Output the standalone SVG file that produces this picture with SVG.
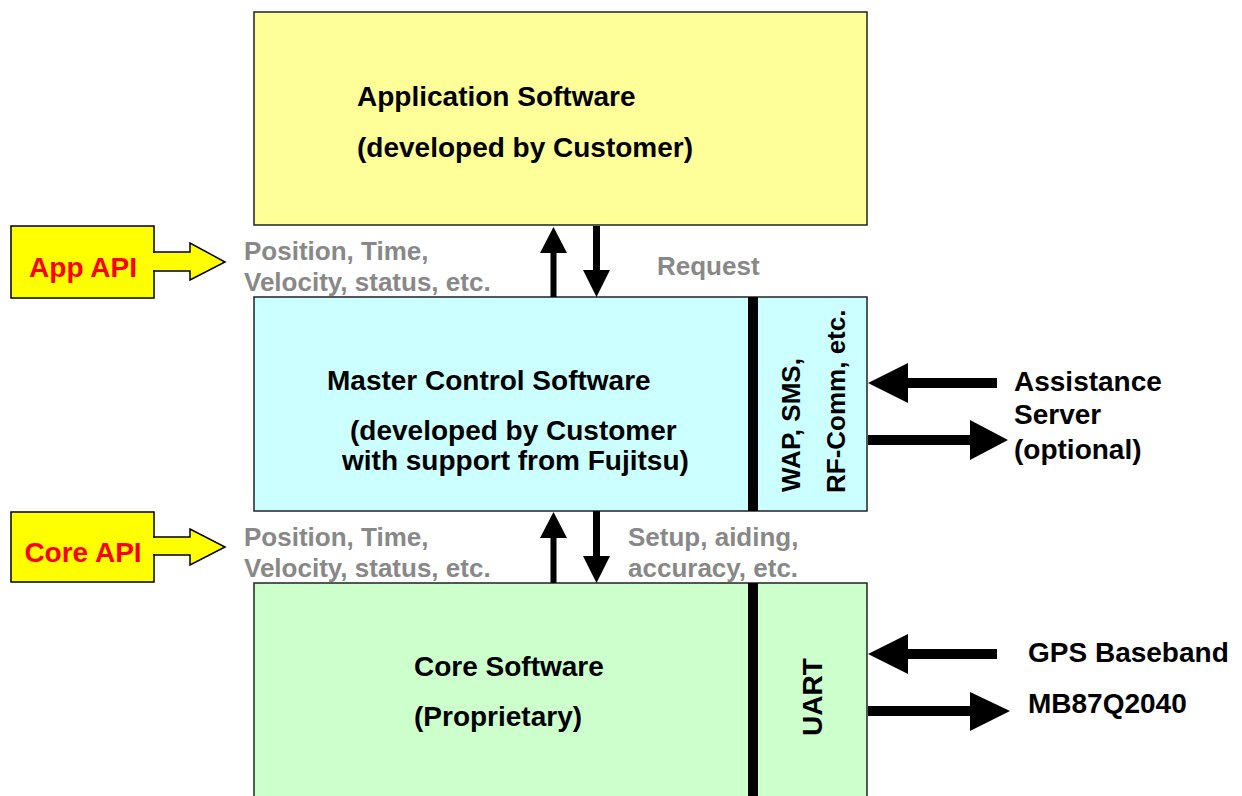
<svg xmlns="http://www.w3.org/2000/svg" width="1242" height="796" viewBox="0 0 1242 796">
<style>
.box{stroke:#222;stroke-width:1.5}
.t{font-family:"Liberation Sans",Arial,sans-serif;font-weight:bold;font-size:28px;fill:#000}
.v{font-size:26px}
.g{font-family:"Liberation Sans",Arial,sans-serif;font-weight:bold;font-size:26px;fill:#888}
.r{font-family:"Liberation Sans",Arial,sans-serif;font-weight:bold;font-size:28px;fill:#f00}
.blk{fill:#000}
.api{fill:#ff0;stroke:#000;stroke-width:1.5}
</style>
<rect width="1242" height="796" fill="#fff"/>
<g id="app">
<rect class="box" x="254" y="12" width="613" height="213" fill="#ffff99"/>
<text class="t" x="357" y="106">Application Software</text>
<text class="t" x="357" y="157">(developed by Customer)</text>
</g>
<g id="master">
<rect class="box" x="254" y="297" width="613" height="214" fill="#ccffff"/>
<rect class="blk" x="748" y="297" width="10" height="214"/>
<text class="t" x="327" y="390">Master Control Software</text>
<text class="t" x="350" y="440">(developed by Customer</text>
<text class="t" x="342" y="470">with support from Fujitsu)</text>
<text class="t v" transform="translate(800,492) rotate(-90)">WAP, SMS,</text>
<text class="t v" transform="translate(845,493) rotate(-90)">RF-Comm, etc.</text>
</g>
<g id="core">
<rect class="box" x="254" y="583" width="613" height="220" fill="#ccffcc"/>
<rect class="blk" x="748" y="583" width="10" height="213"/>
<text class="t" x="414" y="676">Core Software</text>
<text class="t" x="414" y="726">(Proprietary)</text>
<text class="t" text-anchor="middle" transform="translate(822,697) rotate(-90)">UART</text>
</g>
<g id="appapi">
<rect class="api" x="11" y="226" width="143" height="72"/>
<path class="api" d="M154,252 H190 V243 L225,262 L190,280 V271 H154 Z"/>
<rect x="150" y="253" width="6" height="17" fill="#ff0"/>
<text class="r" x="83" y="277" text-anchor="middle">App API</text>
</g>
<g id="coreapi">
<rect class="api" x="11" y="512" width="143" height="70"/>
<path class="api" d="M154,537 H190 V529 L225,547 L190,565 V555 H154 Z"/>
<rect x="150" y="538" width="6" height="16" fill="#ff0"/>
<text class="r" x="83" y="562" text-anchor="middle">Core API</text>
</g>
<g id="assist">
<text class="t" x="1014" y="391">Assistance</text>
<text class="t" x="1014" y="424">Server</text>
<text class="t" x="1014" y="459">(optional)</text>
</g>
<g id="gps">
<text class="t" x="1028" y="662">GPS Baseband</text>
<text class="t" x="1028" y="713">MB87Q2040</text>
</g>
<g id="labels">
<text class="g" x="244" y="260">Position, Time,</text>
<text class="g" x="244" y="291">Velocity, status, etc.</text>
<text class="g" x="657" y="275">Request</text>
<text class="g" x="244" y="546">Position, Time,</text>
<text class="g" x="244" y="577">Velocity, status, etc.</text>
<text class="g" x="628" y="546">Setup, aiding,</text>
<text class="g" x="628" y="577">accuracy, etc.</text>
</g>
<g id="connectors" class="blk">
<path d="M550.5,297 V253 H540 L553.5,227 L567,253 H556.5 V297 Z"/>
<path d="M593,226 V270 H583 L596.5,297 L610,270 H600 V226 Z"/>
<path d="M550.5,583 V538 H540 L553.5,512 L567,538 H556.5 V583 Z"/>
<path d="M593,511 V556 H583 L596.5,583 L610,556 H600 V511 Z"/>
<path d="M997,378 H908 V363 L868,383 L908,403 V388 H997 Z"/>
<path d="M868,435 H970 V420 L1008,440 L970,460 V445 H868 Z"/>
<path d="M997,649 H908 V634 L868,654 L908,674 V659 H997 Z"/>
<path d="M868,706 H970 V692 L1010,711 L970,731 V716 H868 Z"/>
</g>
</svg>
